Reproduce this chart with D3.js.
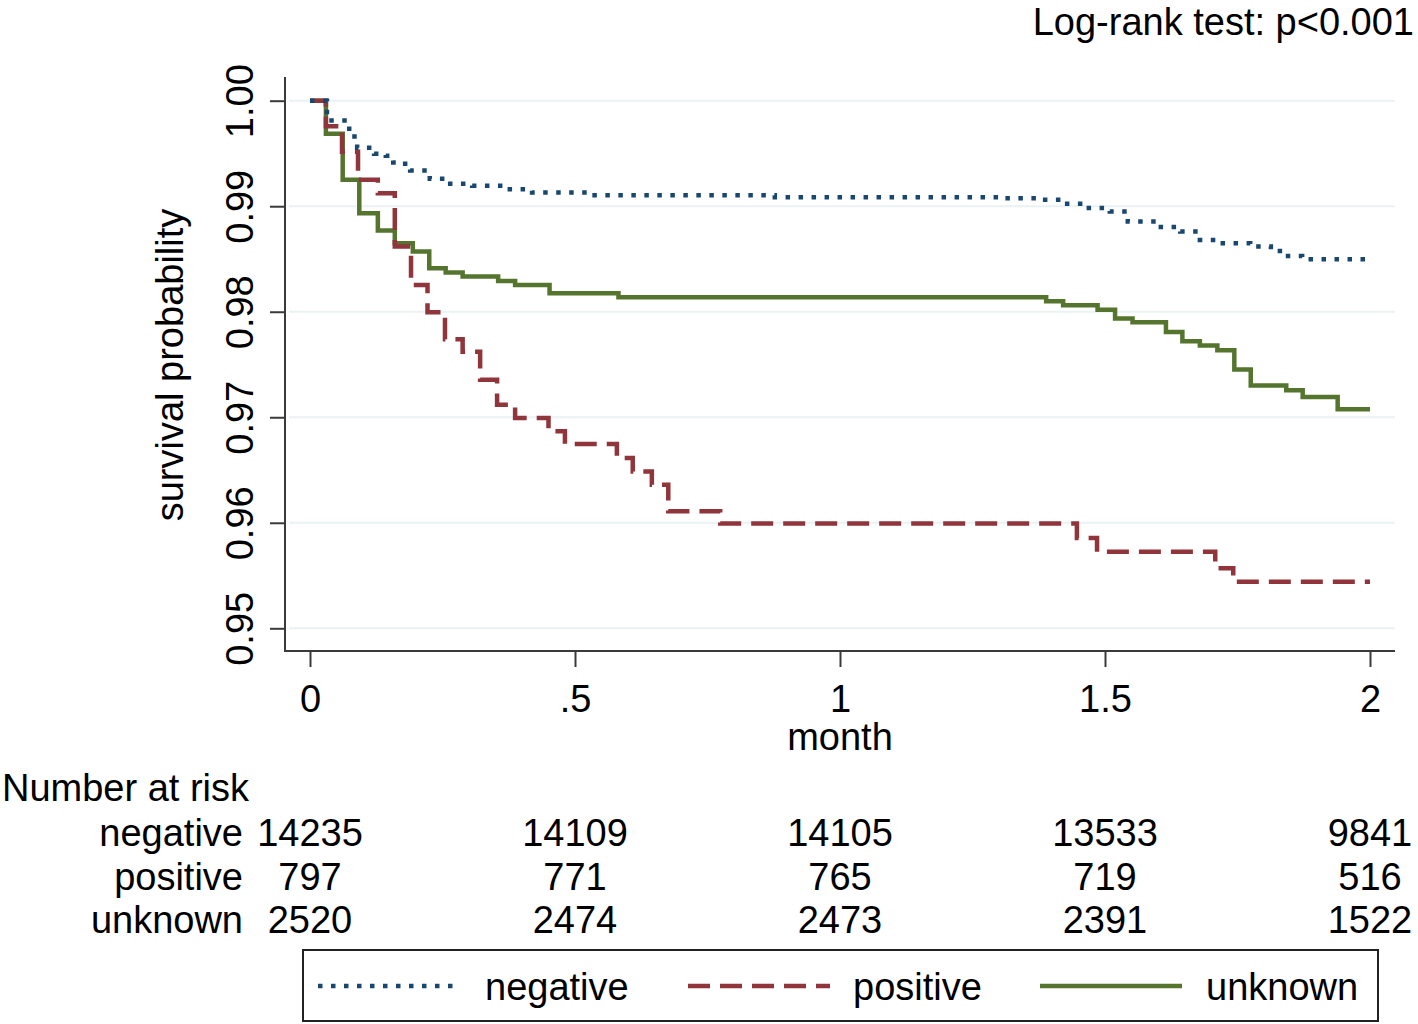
<!DOCTYPE html>
<html>
<head>
<meta charset="utf-8">
<script src="https://cdn.jsdelivr.net/npm/d3@7"></script>
<style>
  body { margin: 0; background: #fff; }
  text { font-family: "Liberation Sans", Arial, sans-serif; fill: #000; }
</style>
</head>
<body>
<script>
// step points (month, survival)
var negTime = [0, 0.032, 0.074, 0.089, 0.121, 0.143, 0.157, 0.174, 0.189, 0.226, 0.258, 0.306, 0.377, 0.419, 0.532, 0.877, 1.302, 1.377, 1.419, 1.464, 1.509, 1.543, 1.600, 1.642, 1.679, 1.717, 1.774, 1.813, 1.830, 1.872, 2];
var negSurv = [1, 0.99813, 0.99661, 0.99554, 0.99497, 0.99478, 0.99415, 0.99402, 0.99339, 0.99260, 0.99213, 0.99194, 0.99162, 0.99130, 0.99103, 0.99086, 0.99075, 0.99061, 0.99023, 0.98982, 0.98950, 0.98855, 0.98802, 0.98760, 0.98681, 0.98650, 0.98618, 0.98575, 0.98529, 0.98498, 0.98498];

var posTime = [0, 0.030, 0.0604, 0.0906, 0.128, 0.160, 0.1906, 0.2217, 0.2547, 0.288, 0.321, 0.353, 0.387, 0.450, 0.481, 0.579, 0.609, 0.645, 0.676, 0.774, 1.447, 1.485, 1.708, 1.742, 2];
var posSurv = [1, 0.99757, 0.99516, 0.99250, 0.99124, 0.98618, 0.98254, 0.97996, 0.97739, 0.97622, 0.97355, 0.97118, 0.96993, 0.96867, 0.96747, 0.96614, 0.96487, 0.96361, 0.96109, 0.95993, 0.95855, 0.95725, 0.9557, 0.9544, 0.9544];

var unkTime = [0, 0.030, 0.0617, 0.093, 0.128, 0.160, 0.194, 0.225, 0.256, 0.288, 0.355, 0.387, 0.452, 0.582, 1.389, 1.421, 1.486, 1.519, 1.552, 1.615, 1.646, 1.679, 1.712, 1.744, 1.775, 1.842, 1.873, 1.939, 2];
var unkSurv = [1, 0.99687, 0.99250, 0.98934, 0.98769, 0.98649, 0.98570, 0.98412, 0.98371, 0.98333, 0.98292, 0.98254, 0.98175, 0.98137, 0.98099, 0.98061, 0.98020, 0.97935, 0.97900, 0.97809, 0.97720, 0.97679, 0.97635, 0.97452, 0.97301, 0.97256, 0.97191, 0.97076, 0.97076];

var groups = ["negative", "positive", "unknown"];
var riskTimes = [0, 0.5, 1, 1.5, 2];
var riskNeg = [14235, 14109, 14105, 13533, 9841];
var riskPos = [797, 771, 765, 719, 516];
var riskUnk = [2520, 2474, 2473, 2391, 1522];

var yTicks = [0.95, 0.96, 0.97, 0.98, 0.99, 1.00];
var xTicks = [0, 0.5, 1, 1.5, 2];
var xTickLabels = ["0", ".5", "1", "1.5", "2"];

var W = 1418, H = 1024;
var fs = 38;

var svg = d3.select("body").append("svg")
  .attr("width", W)
  .attr("height", H);

var x = d3.scaleLinear().domain([0, 2]).range([310, 1370]);
var y = d3.scaleLinear().domain([0.95, 1.00]).range([628.3, 100.7]);

// gridlines
svg.append("g").selectAll("line")
  .data(yTicks)
  .enter().append("line")
  .attr("x1", 289).attr("x2", 1395)
  .attr("y1", d => y(d)).attr("y2", d => y(d))
  .attr("stroke", "#eaf2f3")
  .attr("stroke-width", 2);

// axes
var axisColor = "#3a3a3a";
var yAxis = svg.append("g")
  .attr("transform", "translate(285,0)")
  .call(d3.axisLeft(y).tickValues(yTicks).tickSize(15).tickFormat(d3.format(".2f")));
yAxis.select(".domain").remove();
yAxis.selectAll(".tick line").attr("stroke", axisColor).attr("stroke-width", 2);
yAxis.selectAll(".tick text")
  .attr("x", null).attr("dy", null)
  .attr("transform", "translate(-32,0) rotate(-90)")
  .attr("text-anchor", "middle")
  .style("font-size", fs + "px")
  .style("font-family", "'Liberation Sans', Arial, sans-serif");

var xAxis = svg.append("g")
  .attr("transform", "translate(0,651)")
  .call(d3.axisBottom(x).tickValues(xTicks).tickSize(16).tickFormat((d, i) => xTickLabels[i]));
xAxis.select(".domain").remove();
xAxis.selectAll(".tick line").attr("stroke", axisColor).attr("stroke-width", 2);
xAxis.selectAll(".tick text")
  .attr("y", 61).attr("dy", null)
  .style("font-size", fs + "px")
  .style("font-family", "'Liberation Sans', Arial, sans-serif");

svg.append("line")
  .attr("x1", 285).attr("x2", 285).attr("y1", 77).attr("y2", 652)
  .attr("stroke", axisColor).attr("stroke-width", 2);
svg.append("line")
  .attr("x1", 284).attr("x2", 1395).attr("y1", 651).attr("y2", 651)
  .attr("stroke", axisColor).attr("stroke-width", 2);

// titles
svg.append("text")
  .attr("transform", "translate(183,365) rotate(-90)")
  .attr("text-anchor", "middle")
  .style("font-size", fs + "px")
  .text("survival probability");
svg.append("text")
  .attr("x", 840).attr("y", 750)
  .attr("text-anchor", "middle")
  .style("font-size", fs + "px")
  .text("month");
svg.append("text")
  .attr("x", 1414).attr("y", 35)
  .attr("text-anchor", "end")
  .style("font-size", fs + "px")
  .text("Log-rank test: p<0.001");

// curves
var series = [
  { name: "negative", t: negTime, s: negSurv, color: "#1a476f", dash: "4.5,8.5" },
  { name: "positive", t: posTime, s: posSurv, color: "#90353b", dash: "22,10" },
  { name: "unknown", t: unkTime, s: unkSurv, color: "#55752f", dash: null }
];

var line = d3.line()
  .x(d => x(d[0]))
  .y(d => y(d[1]))
  .curve(d3.curveStepAfter);

// draw unknown first, then positive, then negative on top
[series[2], series[1], series[0]].forEach(function (sr) {
  svg.append("path")
    .datum(d3.zip(sr.t, sr.s))
    .attr("fill", "none")
    .attr("stroke", sr.color)
    .attr("stroke-width", 4.5)
    .attr("stroke-dasharray", sr.dash)
    .attr("d", line);
});

// number at risk table
var riskRows = [riskNeg, riskPos, riskUnk];
var rowY = [846, 890, 933];
svg.append("text")
  .attr("x", 2).attr("y", 801)
  .style("font-size", fs + "px")
  .text("Number at risk");
groups.forEach(function (g, i) {
  svg.append("text")
    .attr("x", 243).attr("y", rowY[i])
    .attr("text-anchor", "end")
    .style("font-size", fs + "px")
    .text(g);
  svg.append("g").selectAll("text")
    .data(riskRows[i])
    .enter().append("text")
    .attr("x", (d, j) => x(riskTimes[j]))
    .attr("y", rowY[i])
    .attr("text-anchor", "middle")
    .style("font-size", fs + "px")
    .text(d => d);
});

// legend
svg.append("rect")
  .attr("x", 303).attr("y", 950)
  .attr("width", 1075).attr("height", 71)
  .attr("fill", "#fff")
  .attr("stroke", "#222")
  .attr("stroke-width", 2);
var legX = [318, 688, 1040];
var legTextX = [485, 853, 1206];
series.forEach(function (sr, i) {
  svg.append("line")
    .attr("x1", legX[i]).attr("x2", legX[i] + 142)
    .attr("y1", 986).attr("y2", 986)
    .attr("stroke", sr.color)
    .attr("stroke-width", 4.5)
    .attr("stroke-dasharray", sr.dash);
  svg.append("text")
    .attr("x", legTextX[i]).attr("y", 1000)
    .style("font-size", fs + "px")
    .text(sr.name);
});
</script>
</body>
</html>
